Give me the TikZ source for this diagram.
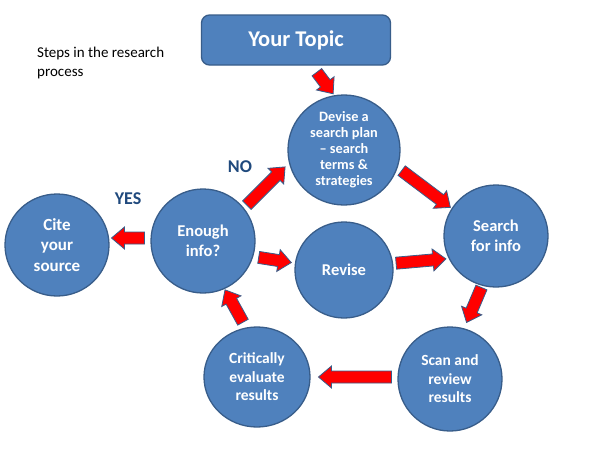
\documentclass[tikz,border=0pt]{standalone}
\usepackage{fontspec}
\setmainfont{Carlito}
\usetikzlibrary{shapes.geometric}
\definecolor{cfill}{HTML}{4F81BD}
\definecolor{cdraw}{HTML}{385D8A}
\definecolor{lbl}{HTML}{1F497D}
\tikzset{
  stepcirc/.style={ellipse, fill=cfill, draw=cdraw, line width=1.3pt, text=white,
    font=\bfseries\fontsize{16.5}{20}\selectfont, align=center, inner sep=0pt},
  topicbox/.style={rectangle, rounded corners=8pt, fill=cfill, draw=cdraw, line width=1.3pt,
    text=white, font=\bfseries\fontsize{22.5}{26}\selectfont, minimum width=189pt, minimum height=50pt},
  yesno/.style={text=lbl, font=\bfseries\fontsize{18}{20}\selectfont, inner sep=0pt},
  barrow/.pic={\filldraw[fill=red, draw=cdraw, line width=0.8pt]
    (-#1/2,-6) -- (#1/2-13,-6) -- (#1/2-13,-11) -- (#1/2,0) -- (#1/2-13,11)
    -- (#1/2-13,6) -- (-#1/2,6) -- cycle;}
}
\begin{document}
\begin{tikzpicture}[x=1pt,y=-1pt]
\useasboundingbox[fill=white] (0,0) rectangle (600,450);
% title text
\node[anchor=north west, inner sep=0pt, align=left, font=\fontsize{15}{19}\selectfont] (title) at (37,47)
  {Steps in the research\\process};
% nodes
\node[topicbox] (topic) at (296,40) {Your Topic};
\node[stepcirc, minimum width=112pt, minimum height=110pt, font=\bfseries\fontsize{14.3}{16}\selectfont] (devise) at (344,150)
  {Devise a\\search plan\\– search\\terms \&\\strategies};
\node[stepcirc, minimum width=104pt, minimum height=102pt] (search) at (496,236) {Search\\for info};
\node[stepcirc, minimum width=98pt, minimum height=96pt] (revise) at (344,270) {Revise};
\node[stepcirc, minimum width=104pt, minimum height=104pt] (enough) at (203,241) {Enough\\info?};
\node[stepcirc, minimum width=104pt, minimum height=102pt, font=\bfseries\fontsize{17}{20.5}\selectfont] (cite) at (57,245) {Cite\\your\\source};
\node[stepcirc, minimum width=106pt, minimum height=100pt, font=\bfseries\fontsize{15.5}{18.5}\selectfont] (crit) at (257,377)
  {Critically\\evaluate\\results};
\node[stepcirc, minimum width=104pt, minimum height=104pt, font=\bfseries\fontsize{15.5}{18.5}\selectfont] (scan) at (450,379)
  {Scan and\\review\\results};
% labels
\node[yesno] (no) at (240,167) {NO};
\node[yesno] (yes) at (128,199) {YES};
% block arrows
\pic[rotate=-53] (a1) at (325,83) {barrow=27};
\pic[rotate=-37] (a2) at (426,189) {barrow=61};
\pic[rotate=-113] (a3) at (474,305) {barrow=38};
\pic[rotate=180] (a4) at (355,377) {barrow=73};
\pic[rotate=119] (a5) at (234,306) {barrow=37};
\pic[rotate=45] (a6) at (266,186) {barrow=54};
\pic[rotate=-9] (a7) at (275,260) {barrow=33};
\pic[rotate=5] (a8) at (421,261) {barrow=50};
\pic[rotate=180] (a9) at (128,238) {barrow=33};
\end{tikzpicture}
\end{document}
